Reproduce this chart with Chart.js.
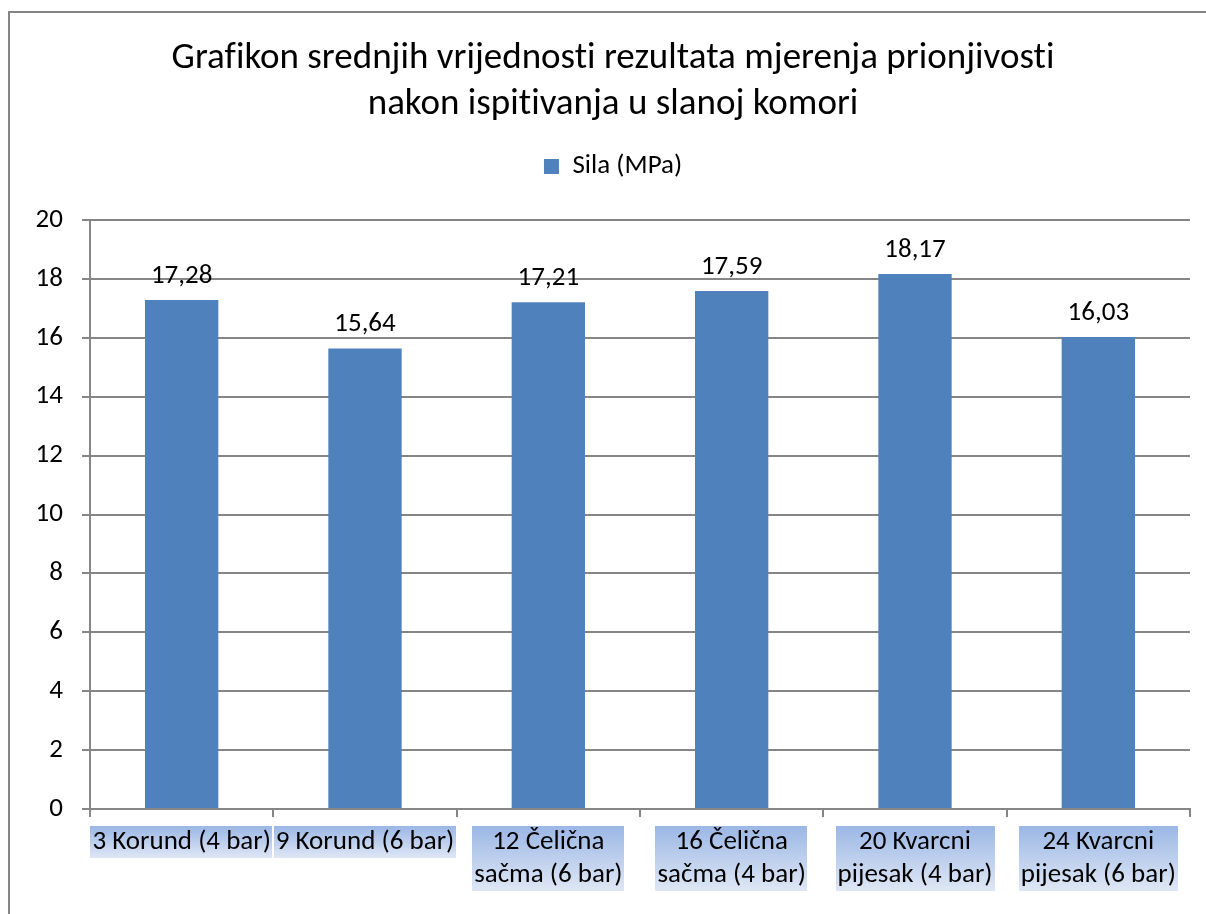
<!DOCTYPE html>
<html lang="hr">
<head>
  <meta charset="UTF-8" />
  <title>Prionjivost - slana komora</title>
  <script src="https://cdn.jsdelivr.net/npm/chart.js"></script>
  <style>
    html, body { margin: 0; padding: 0; background: #fff; }
    #wrap { width: 1206px; height: 914px; position: relative; }
  </style>
</head>
<body>
  <div id="wrap"><canvas id="chart"></canvas></div>

  <script>
    const FONT = 'Carlito, Lato, "Open Sans", sans-serif';
    const GRAY = '#868686';

    const titleLines = [
      'Grafikon srednjih vrijednosti rezultata mjerenja prionjivosti',
      'nakon ispitivanja u slanoj komori'
    ];
    const categories = [
      '3 Korund (4 bar)',
      '9 Korund (6 bar)',
      ['12 Čelična', 'sačma (6 bar)'],
      ['16 Čelična', 'sačma (4 bar)'],
      ['20 Kvarcni', 'pijesak (4 bar)'],
      ['24 Kvarcni', 'pijesak (6 bar)']
    ];
    const seriesName = 'Sila (MPa)';
    const silaValues = [17.28, 15.64, 17.21, 17.59, 18.17, 16.03];
    const yTicks = [0, 2, 4, 6, 8, 10, 12, 14, 16, 18, 20];

    const TXT = 27;
    const tickFont = { family: FONT, size: TXT, lineHeight: 33 / TXT };

    // white background, outer frame, no ligatures, gradient boxes behind category labels
    const framePlugin = {
      id: 'frame',
      beforeInit(chart) {
        // extra room between legend and plot
        const fit = chart.legend.fit;
        chart.legend.fit = function () {
          fit.call(this);
          this.height += 30;
        };
      },
      beforeDraw(chart) {
        const ctx = chart.ctx;
        ctx.letterSpacing = '0.01px';
        ctx.save();
        ctx.fillStyle = '#fff';
        ctx.fillRect(0, 0, chart.width, chart.height);
        ctx.strokeStyle = GRAY;
        ctx.lineWidth = 2;
        ctx.strokeRect(9, 12, 1260, 1000);

        const sx = chart.scales.x;
        const lh = 33;
        const top = sx.top + 8 + 9;
        ctx.font = TXT + 'px ' + FONT;
        categories.forEach((lab, i) => {
          const lines = Array.isArray(lab) ? lab : [lab];
          const w = Math.max(...lines.map(t => ctx.measureText(t).width)) + 4;
          const h = lines.length * lh - 1;
          const cx = sx.getPixelForTick(i);
          const g = ctx.createLinearGradient(0, top, 0, top + h);
          g.addColorStop(0, '#9bb7e5');
          g.addColorStop(1, '#dfe7f5');
          ctx.fillStyle = g;
          ctx.fillRect(Math.round(cx - w / 2), top, Math.round(w), h);
        });
        ctx.restore();
      }
    };

    // value above each bar, decimal comma
    const valuePlugin = {
      id: 'values',
      afterDatasetsDraw(chart) {
        const ctx = chart.ctx;
        const meta = chart.getDatasetMeta(0);
        ctx.save();
        ctx.font = TXT + 'px ' + FONT;
        ctx.fillStyle = '#000';
        ctx.textAlign = 'center';
        ctx.textBaseline = 'middle';
        meta.data.forEach((bar, i) => {
          const txt = silaValues[i].toFixed(2).replace('.', ',');
          ctx.fillText(txt, bar.x, bar.y - 24);
        });
        ctx.restore();
      }
    };

    new Chart(document.getElementById('chart'), {
      type: 'bar',
      data: {
        labels: categories,
        datasets: [{
          label: seriesName,
          data: silaValues,
          backgroundColor: '#4f81bd',
          borderWidth: 0,
          categoryPercentage: 1,
          barPercentage: 0.4
        }]
      },
      options: {
        responsive: true,
        maintainAspectRatio: false,
        animation: false,
        layout: { padding: { left: 36, right: 16, top: 0, bottom: 0 } },
        plugins: {
          title: {
            display: true,
            text: titleLines,
            color: '#000',
            font: { family: FONT, size: 37, weight: 'normal', lineHeight: 46 / 37 },
            padding: { top: 36, bottom: 15 }
          },
          legend: {
            display: true,
            labels: {
              color: '#000',
              font: { family: FONT, size: TXT },
              boxWidth: 15,
              boxHeight: 15,
              padding: 10
            }
          },
          tooltip: { enabled: false }
        },
        scales: {
          x: {
            offset: true,
            grid: {
              offset: true,
              drawOnChartArea: false,
              drawTicks: true,
              tickLength: 8,
              color: GRAY,
              lineWidth: 2
            },
            border: { color: GRAY, width: 2 },
            ticks: {
              color: '#000',
              font: tickFont,
              padding: 9,
              maxRotation: 0,
              autoSkip: false
            },
            afterFit(scale) { scale.height = 105; }
          },
          y: {
            min: 0,
            max: 20,
            afterBuildTicks(scale) { scale.ticks = yTicks.map(v => ({ value: v })); },
            grid: {
              color: GRAY,
              lineWidth: 2,
              drawTicks: true,
              tickLength: 8
            },
            border: { color: GRAY, width: 2 },
            ticks: {
              color: '#000',
              font: { family: FONT, size: TXT },
              padding: 19
            },
            afterFit(scale) { scale.width = 54; }
          }
        }
      },
      plugins: [framePlugin, valuePlugin]
    });
  </script>
</body>
</html>
